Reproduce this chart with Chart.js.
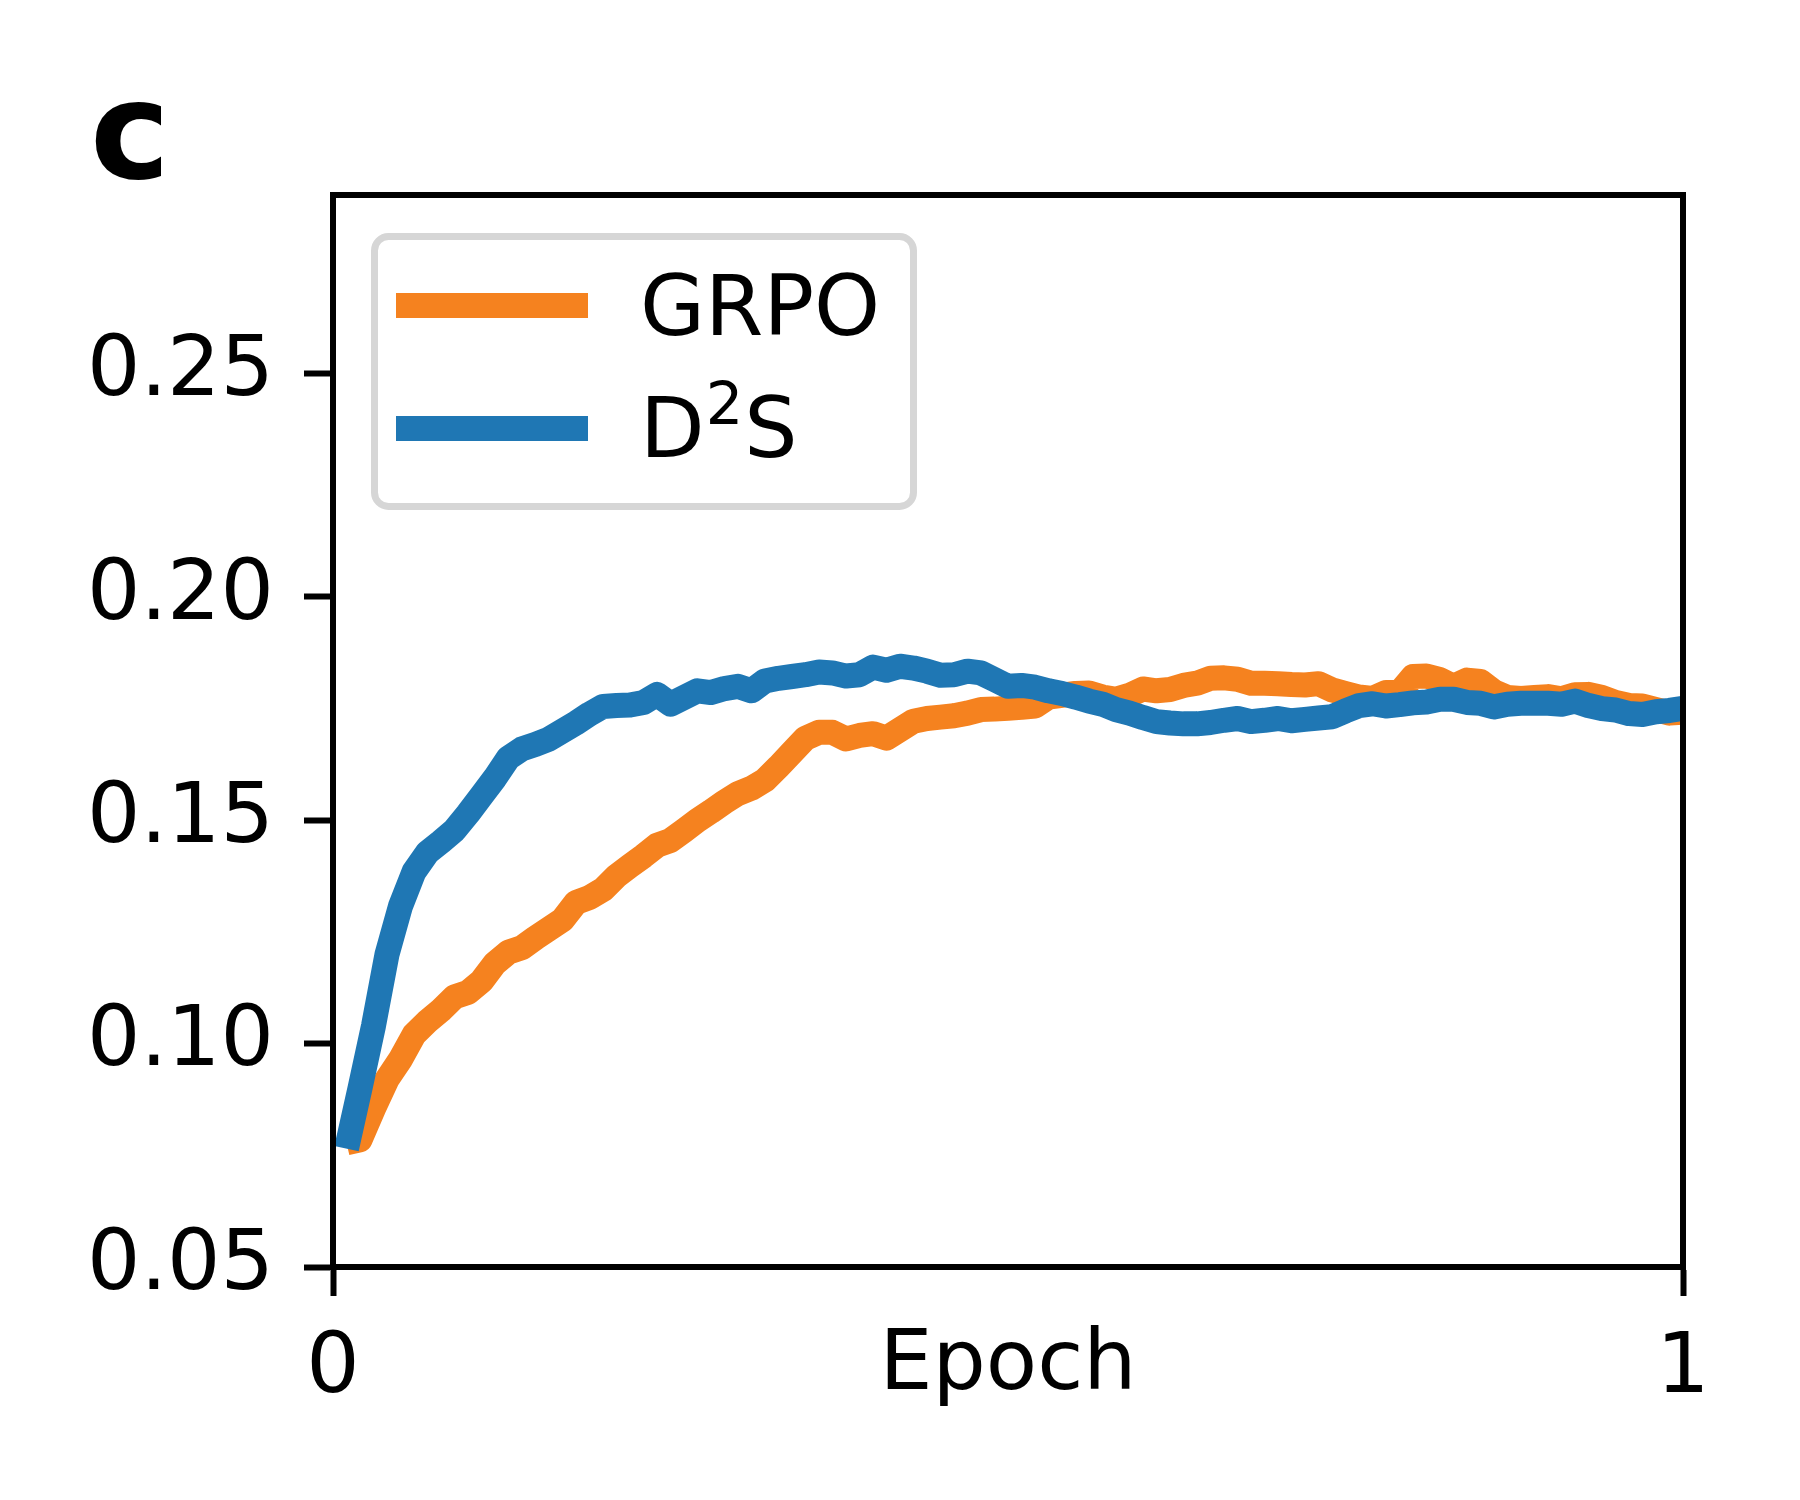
<!DOCTYPE html>
<html><head><meta charset="utf-8">
<script src="https://cdn.jsdelivr.net/npm/chart.js@4.4.1/dist/chart.umd.min.js"></script>
<style>html,body{margin:0;padding:0;background:#fff;} #wrap{width:1800px;height:1500px;position:relative;}</style>
</head><body><div id="wrap"><canvas id="c"></canvas></div>
<script>
const panelLabel = 'c';
const xTitle = 'Epoch';
const seriesNames = ['GRPO', 'D\u00B2S'];
const seriesColors = ['#f5821f', '#1f77b4'];
const xTickValues = [0, 1];
const yTickValues = [0.05, 0.10, 0.15, 0.20, 0.25];
const epochs = Array.from({length: 100}, (_, i) => (i + 1) / 100);
const grpo = [
0.0778,0.0785,0.0855,0.0920,0.0965,0.1020,0.1050,0.1075,0.1105,0.1115,
0.1140,0.1180,0.1205,0.1215,0.1237,0.1257,0.1277,0.1316,0.1327,0.1345,
0.1375,0.1398,0.1420,0.1444,0.1455,0.1477,0.1500,0.1520,0.1541,0.1560,
0.1572,0.1590,0.1620,0.1652,0.1684,0.1697,0.1697,0.1682,0.1690,0.1694,
0.1684,0.1703,0.1722,0.1728,0.1731,0.1734,0.1740,0.1748,0.1749,0.1751,
0.1753,0.1756,0.1776,0.1780,0.1784,0.1785,0.1776,0.1771,0.1780,0.1794,
0.1790,0.1793,0.1802,0.1807,0.1818,0.1819,0.1816,0.1807,0.1807,0.1806,
0.1804,0.1803,0.1806,0.1792,0.1784,0.1776,0.1773,0.1786,0.1786,0.1822,
0.1823,0.1815,0.1800,0.1814,0.1811,0.1788,0.1775,0.1773,0.1775,0.1777,
0.1772,0.1781,0.1782,0.1775,0.1764,0.1757,0.1756,0.1748,0.1740,0.1742];
const d2s = [
0.0765,0.0900,0.1040,0.1200,0.1308,0.1385,0.1428,0.1452,0.1478,0.1515,
0.1555,0.1595,0.1640,0.1660,0.1670,0.1682,0.1700,0.1718,0.1738,0.1755,
0.1757,0.1758,0.1764,0.1782,0.1760,0.1775,0.1790,0.1786,0.1795,0.1800,
0.1790,0.1812,0.1818,0.1822,0.1826,0.1832,0.1830,0.1823,0.1826,0.1843,
0.1836,0.1845,0.1841,0.1834,0.1825,0.1826,0.1834,0.1830,0.1815,0.1800,
0.1802,0.1798,0.1790,0.1784,0.1776,0.1767,0.1760,0.1748,0.1740,0.1730,
0.1721,0.1718,0.1716,0.1716,0.1719,0.1724,0.1728,0.1721,0.1724,0.1728,
0.1723,0.1726,0.1729,0.1732,0.1745,0.1757,0.1761,0.1756,0.1759,0.1763,
0.1765,0.1771,0.1771,0.1764,0.1762,0.1754,0.1760,0.1762,0.1762,0.1762,
0.1760,0.1767,0.1757,0.1750,0.1747,0.1739,0.1737,0.1743,0.1746,0.1751];

const FONT = '"DejaVu Sans", "Liberation Sans", sans-serif';

// draw a label, rendering "²" as a raised smaller "2" like mathtext
function drawLabel(ctx, text, x, baseline, size) {
  const parts = text.split('\u00B2');
  let cx = x;
  parts.forEach((p, i) => {
    if (i > 0) {
      ctx.font = Math.round(size * 0.7) + 'px ' + FONT;
      ctx.fillText('2', cx + 1, baseline - 33);
      cx += ctx.measureText('2').width + 2;
    }
    ctx.font = size + 'px ' + FONT;
    ctx.fillText(p, cx, baseline);
    cx += ctx.measureText(p).width;
  });
}

const decorPlugin = {
  id: 'decor',
  afterDraw(chart) {
    const {ctx, chartArea: a} = chart;
    ctx.save();
    ctx.strokeStyle = '#000';
    ctx.lineWidth = 6;
    ctx.strokeRect(a.left, a.top, a.right - a.left, a.bottom - a.top);
    ctx.fillStyle = '#000';
    ctx.font = 'bold 135px ' + FONT;
    ctx.textAlign = 'left';
    ctx.textBaseline = 'alphabetic';
    ctx.fillText(panelLabel, 90, 178);
    ctx.beginPath();
    ctx.roundRect(374.5, 236.5, 539, 270, 14);
    ctx.fillStyle = 'rgba(255,255,255,0.8)';
    ctx.fill();
    ctx.lineWidth = 7;
    ctx.strokeStyle = '#d6d6d6';
    ctx.stroke();
    const rows = [305.5, 428.5];
    const baselines = [335, 457];
    chart.data.datasets.forEach((ds, i) => {
      ctx.beginPath();
      ctx.lineCap = 'butt';
      ctx.lineWidth = 25;
      ctx.strokeStyle = ds.borderColor;
      ctx.moveTo(396, rows[i]);
      ctx.lineTo(588, rows[i]);
      ctx.stroke();
      ctx.fillStyle = '#000';
      drawLabel(ctx, ds.label, 640, baselines[i], 84);
    });
    ctx.restore();
  }
};

new Chart(document.getElementById('c'), {
  type: 'line',
  data: {
    labels: epochs,
    datasets: [
      {label: seriesNames[0], data: epochs.map((e, i) => ({x: e, y: grpo[i]})), borderColor: seriesColors[0], order: 1},
      {label: seriesNames[1], data: epochs.map((e, i) => ({x: e, y: d2s[i]})), borderColor: seriesColors[1], order: 0}
    ].map(d => Object.assign(d, {borderWidth: 25, pointRadius: 0, tension: 0, fill: false,
      borderJoinStyle: 'round', borderCapStyle: 'butt', clip: 0}))
  },
  options: {
    responsive: true,
    maintainAspectRatio: false,
    devicePixelRatio: 1,
    animation: false,
    layout: {padding: {top: 195, right: 117, left: 0, bottom: 0}},
    plugins: {legend: {display: false}, tooltip: {enabled: false}, title: {display: false}},
    scales: {
      x: {
        type: 'linear', min: 0, max: 1,
        afterBuildTicks: s => { s.ticks = xTickValues.map(v => ({value: v})); },
        afterFit: s => { s.height = 233; },
        grid: {drawOnChartArea: false, drawTicks: true, tickLength: 29, tickWidth: 6, tickColor: '#000'},
        border: {display: true, width: 6, color: '#000'},
        ticks: {autoSkip: false, maxRotation: 0, padding: 24, color: '#000',
          font: {family: FONT, size: 84}, callback: v => String(v)},
        title: {display: true, text: xTitle, color: '#000', font: {family: FONT, size: 84},
          padding: {top: 0, bottom: 82}}
      },
      y: {
        type: 'linear', min: 0.05, max: 0.29,
        afterBuildTicks: s => { s.ticks = yTickValues.map(v => ({value: v})); },
        afterFit: s => { s.width = 333; },
        grid: {drawOnChartArea: false, drawTicks: true, tickLength: 29, tickWidth: 6, tickColor: '#000'},
        border: {display: true, width: 6, color: '#000'},
        ticks: {autoSkip: false, padding: 30, color: '#000',
          font: {family: FONT, size: 84}, callback: v => v.toFixed(2)}
      }
    }
  },
  plugins: [decorPlugin]
});
</script></body></html>
